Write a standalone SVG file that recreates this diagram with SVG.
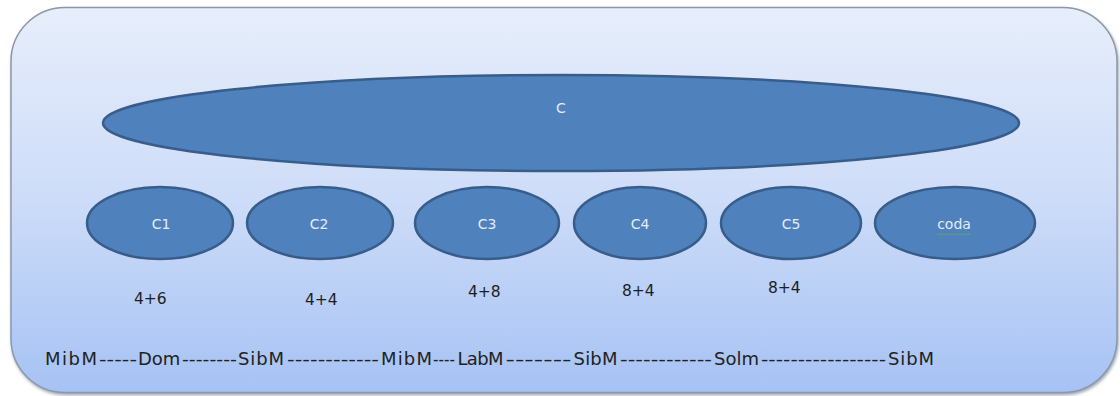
<svg xmlns="http://www.w3.org/2000/svg" width="1120" height="396" viewBox="0 0 1120 396">
<defs>
<linearGradient id="bg" x1="0" y1="0" x2="0" y2="1">
<stop offset="0" stop-color="#e7eefb"/>
<stop offset="0.5" stop-color="#cddcf8"/>
<stop offset="1" stop-color="#a6c2f4"/>
</linearGradient>
<filter id="sh" x="-5%" y="-5%" width="110%" height="115%">
<feDropShadow dx="1" dy="2" stdDeviation="1.5" flood-color="#5a6a80" flood-opacity="0.6"/>
</filter>
<style>
.node{fill:#4f81bd;stroke:#385d8a;stroke-width:2.5}
.lbl{font-family:"DejaVu Sans","Liberation Sans",sans-serif;font-size:14px;fill:#e4ecf7;text-anchor:middle}
.num{font-family:"DejaVu Sans","Liberation Sans",sans-serif;font-size:15.5px;fill:#1e1e1e}
.seq{font-family:"DejaVu Sans","Liberation Sans",sans-serif;font-size:18px;fill:#222}
</style>
</defs>
<rect x="0" y="0" width="1120" height="396" fill="#ffffff"/>
<g id="frame">
<rect x="11" y="7.5" width="1106" height="385" rx="54" ry="54" fill="url(#bg)" stroke="#8c98aa" stroke-width="1.5" filter="url(#sh)"/>
</g>
<g id="connectors"></g>
<g id="node-C">
<ellipse class="node" cx="561" cy="123" rx="458" ry="48"/>
<text class="lbl" x="561" y="113">C</text>
</g>
<g id="node-C1">
<ellipse class="node" cx="160" cy="223" rx="73" ry="36"/>
<text class="lbl" x="161" y="229">C1</text>
</g>
<g id="node-C2">
<ellipse class="node" cx="320" cy="223" rx="73" ry="36"/>
<text class="lbl" x="319" y="229">C2</text>
</g>
<g id="node-C3">
<ellipse class="node" cx="487" cy="223" rx="72" ry="36"/>
<text class="lbl" x="487" y="229">C3</text>
</g>
<g id="node-C4">
<ellipse class="node" cx="640" cy="223" rx="66" ry="36"/>
<text class="lbl" x="640" y="229">C4</text>
</g>
<g id="node-C5">
<ellipse class="node" cx="791" cy="223" rx="70" ry="36"/>
<text class="lbl" x="791" y="229">C5</text>
</g>
<g id="node-coda">
<ellipse class="node" cx="955" cy="223" rx="80" ry="36"/>
<text class="lbl" x="954" y="229">coda</text>
<path d="M937 233.5 l2 1.5 l2 -1.5 l2 1.5 l2 -1.5 l2 1.5 l2 -1.5 l2 1.5 l2 -1.5 l2 1.5 l2 -1.5 l2 1.5 l2 -1.5 l2 1.5 l2 -1.5 l2 1.5 l2 -1.5 l2 1.5" fill="none" stroke="#6cab52" stroke-width="0.8"/>
</g>
<g id="numbers">
<text class="num" x="134" y="304">4+6</text>
<text class="num" x="305" y="305">4+4</text>
<text class="num" x="468" y="297">4+8</text>
<text class="num" x="622" y="296">8+4</text>
<text class="num" x="768" y="293">8+4</text>
</g>
<g id="sequence">
<text class="seq" x="45" y="365" textLength="52" lengthAdjust="spacing">MibM</text>
<text class="seq" x="99" y="365" textLength="38" lengthAdjust="spacingAndGlyphs">-----</text>
<text class="seq" x="138" y="365">Dom</text>
<text class="seq" x="182" y="365" textLength="55" lengthAdjust="spacingAndGlyphs">--------</text>
<text class="seq" x="238" y="365" textLength="46" lengthAdjust="spacing">SibM</text>
<text class="seq" x="287" y="365" textLength="92" lengthAdjust="spacingAndGlyphs">------------</text>
<text class="seq" x="381" y="365" textLength="51" lengthAdjust="spacing">MibM</text>
<text class="seq" x="433" y="365" textLength="22" lengthAdjust="spacingAndGlyphs">----</text>
<text class="seq" x="457.5" y="365" textLength="46" lengthAdjust="spacing">LabM</text>
<text class="seq" x="505.5" y="365" textLength="66" lengthAdjust="spacingAndGlyphs">-------</text>
<text class="seq" x="573.5" y="365" textLength="44" lengthAdjust="spacing">SibM</text>
<text class="seq" x="620" y="365" textLength="92" lengthAdjust="spacingAndGlyphs">------------</text>
<text class="seq" x="714" y="365">Solm</text>
<text class="seq" x="761" y="365" textLength="125" lengthAdjust="spacingAndGlyphs">-----------------</text>
<text class="seq" x="888" y="365" textLength="46" lengthAdjust="spacing">SibM</text>
</g>
</svg>
